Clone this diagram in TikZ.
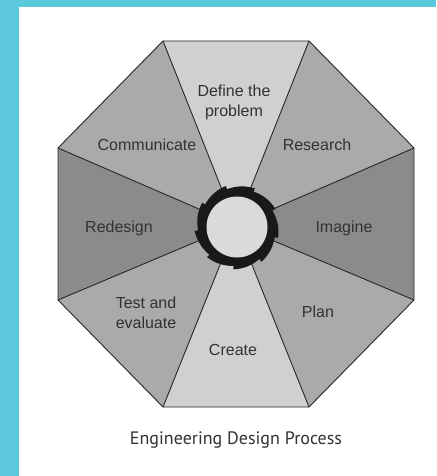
\documentclass[tikz,border=0pt]{standalone}
\usepackage{fontspec}
\setmainfont{Liberation Sans}
\newfontfamily\capfont{PT Sans}
\definecolor{cyanbg}{HTML}{5BC8DC}
\definecolor{light}{HTML}{D0D0D0}
\definecolor{mid}{HTML}{AAAAAA}
\definecolor{dark}{HTML}{8B8B8B}
\definecolor{hub}{HTML}{DADADA}
\definecolor{txt}{HTML}{323232}
\definecolor{edge}{HTML}{262626}
\begin{document}
\begin{tikzpicture}[x=1pt,y=-1pt,
  lbl/.style={font=\fontsize{16}{20}\selectfont, text=txt, align=center, inner sep=0pt},
  sector/.style={draw=edge, line width=0.9pt, line join=round}]
\useasboundingbox (0,0) rectangle (436,476);
\fill[cyanbg] (0,0) rectangle (436,476);
\fill[white] (19,7) rectangle (436,476);
\coordinate (O) at (236,225);
\coordinate (v1) at (163,41);
\coordinate (v2) at (309,41);
\coordinate (v3) at (414,148);
\coordinate (v4) at (414,300);
\coordinate (v5) at (309,407);
\coordinate (v6) at (163,407);
\coordinate (v7) at (58,300);
\coordinate (v8) at (58,148);
\fill[light] (O) -- (v1) -- (v2) -- cycle;
\fill[mid] (O) -- (v2) -- (v3) -- cycle;
\fill[dark] (O) -- (v3) -- (v4) -- cycle;
\fill[mid] (O) -- (v4) -- (v5) -- cycle;
\fill[light] (O) -- (v5) -- (v6) -- cycle;
\fill[mid] (O) -- (v6) -- (v7) -- cycle;
\fill[dark] (O) -- (v7) -- (v8) -- cycle;
\fill[mid] (O) -- (v8) -- (v1) -- cycle;
\foreach \v in {v1,v2,v3,v4,v5,v6,v7,v8} \draw[sector] (O) -- (\v);
\draw[sector] (v1) -- (v2) -- (v3) -- (v4) -- (v5) -- (v6) -- (v7) -- (v8) -- cycle;
% gear
\begin{scope}[shift={(237,227)}]
\fill[black!90] (0,0) circle (39);
\foreach \a in {15,55,...,335}
  \fill[black!90] (0,0) -- plot[domain=\a:\a+40, samples=10] (\x:{39+3.5*(\x-\a)/40}) -- cycle;
\fill[hub] (0,0) circle (30.5);
\end{scope}
\node[lbl] (define) at (234,102) {Define the\\problem};
\node[lbl] (research) at (317,145) {Research};
\node[lbl] (imagine) at (344,228) {Imagine};
\node[lbl] (plan) at (318,312) {Plan};
\node[lbl] (create) at (233,350) {Create};
\node[lbl] (test) at (146,313) {Test and\\evaluate};
\node[lbl] (redesign) at (119,228) {Redesign};
\node[lbl] (communicate) at (147,145) {Communicate};
\node[font=\capfont\fontsize{18}{22}\selectfont, text=txt, inner sep=0pt] (caption) at (236,440) {Engineering Design Process};
\end{tikzpicture}
\end{document}
